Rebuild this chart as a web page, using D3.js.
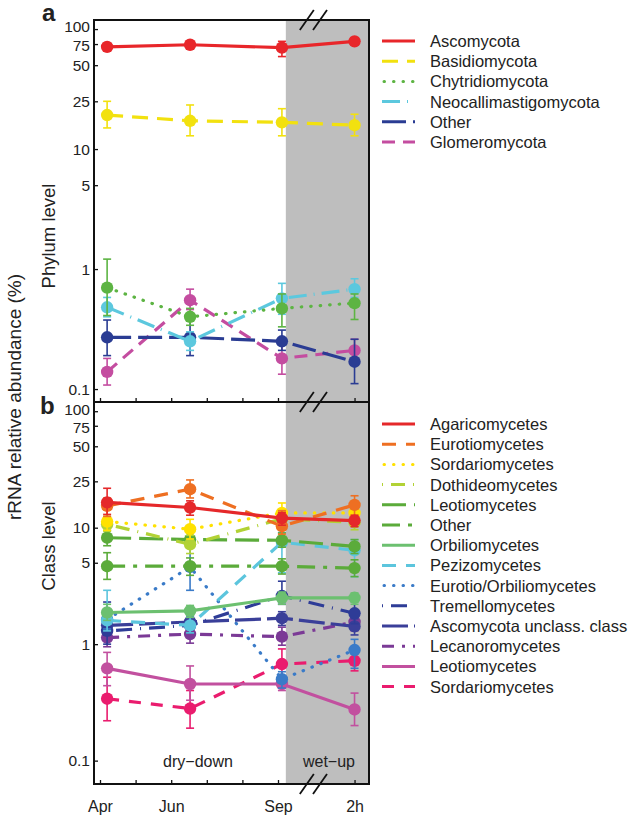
<!DOCTYPE html>
<html>
<head>
<meta charset="utf-8">
<script src="https://cdnjs.cloudflare.com/ajax/libs/d3/7.8.5/d3.min.js"></script>
<style>
  body { margin: 0; background: #fff; }
  svg text { font-family: "Liberation Sans", Arial, sans-serif; fill: #222; }
  .tick text { font-size: 15.5px; }
  .legenda { font-size: 16.5px; }
</style>
</head>
<body>
<svg width="633" height="815"></svg>
<script>
// mesi di campionamento (0 = Apr, 5 = Sep, 7.15 = 2h dopo la bagnatura)
var sampleMonth = [0.2, 2.53, 5.11, 7.15];
var xTickValues = [0, 1, 2, 3, 4, 5, 7.15];
var xTickLabels = ["Apr", "", "Jun", "", "", "Sep", "2h"];
var yTickValues = [0.1, 1, 5, 10, 25, 50, 75, 100];
var yTickLabels = ["0.1", "1", "5", "10", "25", "50", "75", "100"];

// pannello a - phylum
var phylumNames = ["Ascomycota", "Basidiomycota", "Chytridiomycota", "Neocallimastigomycota", "Other", "Glomeromycota"];
var phylumMean = [
  [71, 74, 70, 79],
  [19.2, 17.2, 16.7, 15.8],
  [0.70, 0.40, 0.47, 0.52],
  [0.48, 0.25, 0.57, 0.68],
  [0.27, 0.27, 0.25, 0.169],
  [0.139, 0.55, 0.18, 0.21]
];
var phylumLow = [
  [67, 70, 59, 75],
  [15.0, 12.9, 12.9, 12.9],
  [0.41, 0.34, 0.33, 0.38],
  [0.40, 0.21, 0.42, 0.58],
  [0.19, 0.19, 0.21, 0.111],
  [0.108, 0.46, 0.133, 0.17]
];
var phylumHigh = [
  [75, 78, 79, 83],
  [25.0, 23.3, 21.7, 19.5],
  [1.21, 0.47, 0.62, 0.62],
  [0.58, 0.30, 0.76, 0.83],
  [0.376, 0.39, 0.31, 0.26],
  [0.18, 0.68, 0.25, 0.26]
];

// pannello b - classe
var classNames = ["Agaricomycetes", "Eurotiomycetes", "Sordariomycetes", "Dothideomycetes", "Leotiomycetes", "Other",
  "Orbiliomycetes", "Pezizomycetes", "Eurotio/Orbiliomycetes", "Tremellomycetes", "Ascomycota unclass. class",
  "Lecanoromycetes", "Leotiomycetes", "Sordariomycetes"];
var classMean = [
  [16.5, 14.9, 12.1, 11.5],
  [15.4, 21.4, 10.3, 15.7],
  [11.3, 9.7, 13.4, 13.4],
  [10.7, 7.2, 11.9, 11.1],
  [8.2, 7.9, 7.8, 6.9],
  [4.67, 4.67, 4.67, 4.5],
  [1.87, 1.93, 2.5, 2.5],
  [1.6, 1.45, 7.5, 6.4],
  [1.63, 4.6, 0.50, 0.89],
  [1.3, 1.45, 2.6, 1.84],
  [1.45, 1.55, 1.67, 1.42],
  [1.14, 1.22, 1.16, 1.55],
  [0.62, 0.455, 0.455, 0.275],
  [0.34, 0.28, 0.675, 0.72]
];
var classLow = [
  [13, 12.8, 10.5, 10.2],
  [12.5, 18, 8.8, 12.5],
  [9.5, 8, 11, 10.5],
  [9.3, 6, 10.3, 9.6],
  [7, 6.8, 6.8, 6],
  [3.6, 3.9, 4, 3.8],
  [1.6, 1.7, 2.2, 2.2],
  [1.3, 1.25, 4.1, 3.8],
  [1.35, 2.9, 0.42, 0.62],
  [1.0, 1.25, 2.2, 1.5],
  [1.25, 1.35, 1.45, 1.2],
  [0.95, 1.02, 0.98, 1.3],
  [0.44, 0.33, 0.4, 0.2],
  [0.22, 0.19, 0.5, 0.59]
];
var classHigh = [
  [21.8, 17, 13.5, 12.8],
  [18, 25.7, 14, 18.8],
  [15.7, 11.8, 16.3, 16.8],
  [12.5, 8.6, 13.8, 12.8],
  [9.5, 9.2, 9, 7.9],
  [6.1, 5.5, 5.4, 5.3],
  [2.2, 2.15, 2.8, 2.75],
  [2.9, 1.7, 9.1, 7.9],
  [1.95, 7.2, 0.58, 1.1],
  [2.3, 1.7, 3.47, 2.5],
  [1.7, 1.75, 1.9, 1.65],
  [1.35, 1.45, 1.4, 1.8],
  [0.85, 0.65, 0.52, 0.38],
  [0.52, 0.4, 0.91, 0.89]
];

// stili
var phylumColors = ["#e8262a", "#f2e10f", "#5db443", "#5cc8de", "#2a3c93", "#c44da0"];
var phylumDash = ["", "16,9", "0.5,9", "18,7,1,7", "24,7", "13,8"];
var classColors = ["#e5282a", "#ee6f22", "#ffe100", "#b2d235", "#5bab3a", "#5bab3a", "#6cc070",
  "#5cc5dd", "#3a7bc8", "#2e3c97", "#3a3f99", "#7b3a96", "#c2509f", "#ea1c6e"];
var classDash = ["", "14,10", "0.5,9", "1,8,14,8", "24,8", "18,8,4,8", "", "14,10", "0.5,9", "1,8,16,8", "26,6", "12,8,3,8", "", "12,10"];

var left = 94, right = 369;
var topA = 20, midY = 402, bottomB = 784;

var svg = d3.select("svg");

var x = d3.scaleLinear().domain([0, 5]).range([100, 278]);
var yA = d3.scaleLog().domain([0.078, 119]).range([midY, topA]);
var yB = d3.scaleLog().domain([0.063, 120]).range([bottomB, midY]);

var shadeStart = 5.22;

//sfondo grigio del wet-up
svg.append("rect")
   .attr("x", x(shadeStart))
   .attr("y", topA)
   .attr("width", right - x(shadeStart))
   .attr("height", bottomB - topA)
   .attr("fill", "#bebebe");

function drawAxes(y, yTop, yBot, showLabels){
  var ax = d3.axisLeft(y).tickValues(yTickValues)
             .tickFormat(function(d, i){ return yTickLabels[i]; })
             .tickSize(-4).tickPadding(4);
  var g = svg.append("g").attr("transform", "translate(" + left + ",0)").call(ax);
  g.select(".domain").remove();
  g.selectAll("line").attr("stroke", "#111").attr("stroke-width", 1.3);
  // 100 e 75 sono vicinissimi: li allargo un poco
  g.selectAll(".tick text")
   .attr("dy", function(d){ return d == 100 ? "0.18em" : (d == 75 ? "0.42em" : "0.32em"); });

  var bx = d3.axisBottom(x).tickValues(xTickValues)
             .tickFormat(function(d, i){ return showLabels ? xTickLabels[i] : ""; })
             .tickSize(-4).tickPadding(17);
  var gb = svg.append("g").attr("transform", "translate(0," + yBot + ")").call(bx);
  gb.select(".domain").remove();
  gb.selectAll("line").attr("stroke", "#111").attr("stroke-width", 1.3);
  gb.selectAll(".tick text").style("font-size", "16px");
}

function drawPanel(y, names, mean, low, high, colors, dash){
  var line = d3.line()
               .x(function(d, i){ return x(sampleMonth[i]); })
               .y(function(d){ return y(d); });

  // ordine inverso: la prima serie sta sopra
  for (var k = names.length - 1; k >= 0; k--){
    var g = svg.append("g");
    var isDot = dash[k].indexOf("0.5") == 0;
    g.append("path")
     .attr("d", line(mean[k]))
     .attr("fill", "none")
     .attr("stroke", colors[k])
     .attr("stroke-width", 3.2)
     .attr("stroke-linecap", isDot ? "round" : "butt")
     .attr("stroke-dasharray", dash[k] || null);

    for (var i = 0; i < sampleMonth.length; i++){
      var cx = x(sampleMonth[i]);
      g.append("line")
       .attr("x1", cx).attr("x2", cx)
       .attr("y1", y(low[k][i])).attr("y2", y(high[k][i]))
       .attr("stroke", colors[k]).attr("stroke-width", 1.6);
      [low[k][i], high[k][i]].forEach(function(v){
        g.append("line")
         .attr("x1", cx - 4).attr("x2", cx + 4)
         .attr("y1", y(v)).attr("y2", y(v))
         .attr("stroke", colors[k]).attr("stroke-width", 1.6);
      });
    }

    g.selectAll("circle").data(mean[k]).enter().append("circle")
     .attr("cx", function(d, i){ return x(sampleMonth[i]); })
     .attr("cy", function(d){ return y(d); })
     .attr("r", 6.2)
     .attr("fill", colors[k]);
  }
}

function drawLegend(names, colors, dash, y0){
  var step = 20.2;
  names.forEach(function(n, i){
    var yy = y0 + i * step;
    var isDot = dash[i].indexOf("0.5") == 0;
    svg.append("line")
       .attr("x1", isDot ? 384 : 382).attr("x2", 415)
       .attr("y1", yy).attr("y2", yy)
       .attr("stroke", colors[i])
       .attr("stroke-width", 3)
       .attr("stroke-linecap", isDot ? "round" : "butt")
       .attr("stroke-dasharray", dash[i] || null);
    svg.append("text")
       .attr("class", "legenda")
       .attr("x", 430).attr("y", yy)
       .attr("dominant-baseline", "central")
       .text(n);
  });
}

drawPanel(yA, phylumNames, phylumMean, phylumLow, phylumHigh, phylumColors, phylumDash);
drawPanel(yB, classNames, classMean, classLow, classHigh, classColors, classDash);

drawAxes(yA, topA, midY, false);
drawAxes(yB, midY, bottomB, true);

//bordi dei pannelli
svg.append("rect").attr("x", left).attr("y", topA).attr("width", right - left).attr("height", midY - topA)
   .attr("fill", "none").attr("stroke", "#111").attr("stroke-width", 2);
svg.append("rect").attr("x", left).attr("y", midY).attr("width", right - left).attr("height", bottomB - midY)
   .attr("fill", "none").attr("stroke", "#111").attr("stroke-width", 2);

//segni di interruzione dell'asse
[topA, midY, bottomB].forEach(function(yy){
  [5.81, 6.18].forEach(function(m){
    var cx = x(m);
    svg.append("line")
       .attr("x1", cx - 7).attr("y1", yy + 10)
       .attr("x2", cx + 7).attr("y2", yy - 10)
       .attr("stroke", "#111").attr("stroke-width", 1.8);
  });
});

drawLegend(phylumNames, phylumColors, phylumDash, 41);
drawLegend(classNames, classColors, classDash, 424);

// scritte
svg.append("text").attr("x", 198).attr("y", 761).attr("text-anchor", "middle")
   .attr("dominant-baseline", "central").style("font-size", "16px").text("dry\u2212down");
svg.append("text").attr("x", 329).attr("y", 761).attr("text-anchor", "middle")
   .attr("dominant-baseline", "central").style("font-size", "16px").text("wet\u2212up");

svg.append("text").attr("x", 42).attr("y", 21).style("font-size", "24px").style("font-weight", "bold").text("a");
svg.append("text").attr("x", 40).attr("y", 414).style("font-size", "24px").style("font-weight", "bold").text("b");

svg.append("text").attr("transform", "translate(21,397) rotate(-90)")
   .attr("text-anchor", "middle").style("font-size", "19px").text("rRNA relative abundance (%)");
svg.append("text").attr("transform", "translate(55,236) rotate(-90)")
   .attr("text-anchor", "middle").style("font-size", "18.5px").text("Phylum level");
svg.append("text").attr("transform", "translate(55,546) rotate(-90)")
   .attr("text-anchor", "middle").style("font-size", "18.5px").text("Class level");
</script>
</body>
</html>
